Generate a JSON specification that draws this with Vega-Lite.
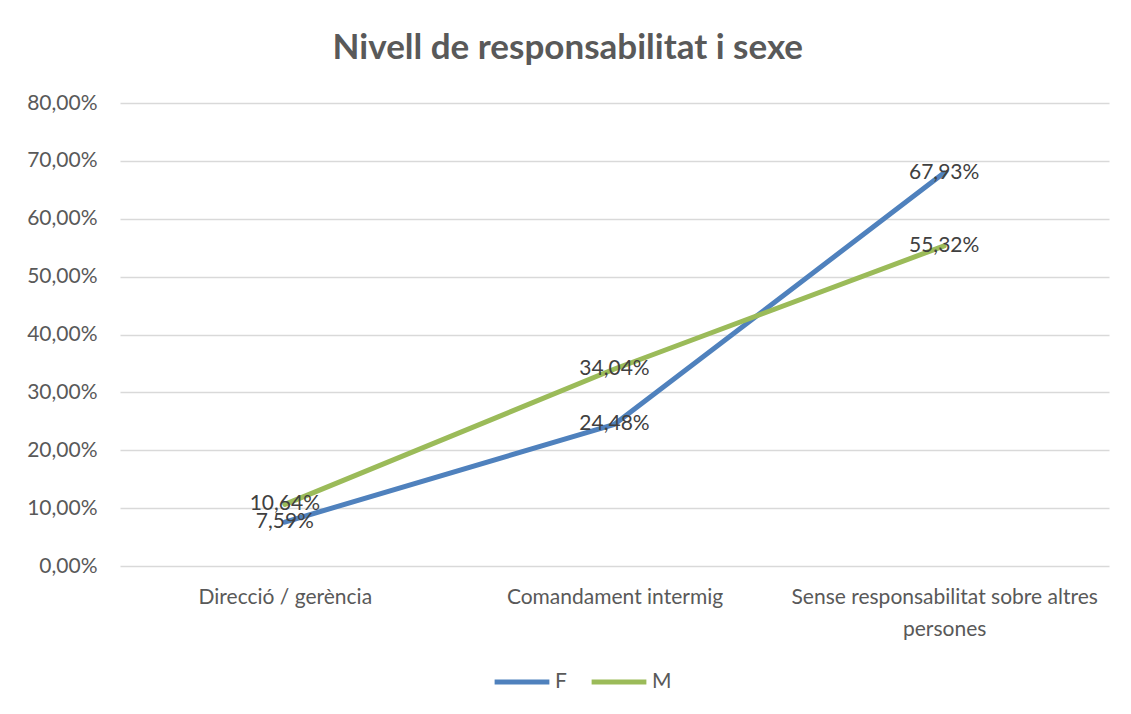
{
  "$schema": "https://vega.github.io/schema/vega-lite/v6.json",
  "autosize": {"type": "none"},
  "width": 989,
  "height": 463,
  "padding": {"left": 120, "top": 103, "right": 22, "bottom": 148},
  "background": "white",
  "title": {
    "text": "Nivell de responsabilitat i sexe",
    "font": "Lato",
    "fontSize": 35,
    "fontWeight": "bold",
    "color": "#595959",
    "anchor": "middle",
    "frame": "bounds",
    "offset": 26
  },
  "config": {
    "locale": {"number": {"decimal": ",", "thousands": ".", "grouping": [3], "currency": ["", " €"]}},
    "view": {"stroke": null},
    "font": "Lato"
  },
  "data": {
    "values": [
      {"cat": "Direcció / gerència", "sexe": "F", "v": 0.0759},
      {"cat": "Comandament intermig", "sexe": "F", "v": 0.2448},
      {"cat": "Sense responsabilitat sobre altres persones", "sexe": "F", "v": 0.6793},
      {"cat": "Direcció / gerència", "sexe": "M", "v": 0.1064},
      {"cat": "Comandament intermig", "sexe": "M", "v": 0.3404},
      {"cat": "Sense responsabilitat sobre altres persones", "sexe": "M", "v": 0.5532}
    ]
  },
  "encoding": {
    "x": {
      "field": "cat", "type": "nominal", "sort": null,
      "scale": {"paddingInner": 0, "paddingOuter": 0},
      "axis": {
        "title": null, "ticks": false, "domain": false, "labelAngle": 0,
        "labelFont": "Lato", "labelFontSize": 21, "labelColor": "#595959",
        "labelPadding": 20, "labelLineHeight": 32, "labelLimit": 400,
        "labelExpr": "datum.value == 'Sense responsabilitat sobre altres persones' ? ['Sense responsabilitat sobre altres', 'persones'] : datum.value"
      }
    },
    "y": {
      "field": "v", "type": "quantitative",
      "scale": {"domain": [0, 0.8], "nice": false},
      "axis": {
        "title": null, "format": ".2%", "values": [0, 0.1, 0.2, 0.3, 0.4, 0.5, 0.6, 0.7, 0.8],
        "labelOverlap": false,
        "ticks": false, "domain": false,
        "gridColor": "#d9d9d9", "gridWidth": 1.3,
        "labelFont": "Lato", "labelFontSize": 21, "labelColor": "#595959", "labelPadding": 23
      }
    }
  },
  "layer": [
    {
      "mark": {"type": "line", "strokeWidth": 5, "strokeCap": "round", "strokeJoin": "round"},
      "encoding": {
        "color": {
          "field": "sexe", "type": "nominal",
          "scale": {"domain": ["F", "M"], "range": ["#4f81bd", "#9bbb59"]},
          "legend": {
            "title": null, "orient": "none", "direction": "horizontal",
            "legendX": 372, "legendY": 549,
            "symbolType": "stroke", "symbolStrokeWidth": 5, "symbolSize": 3000,
            "labelFont": "Lato", "labelFontSize": 21, "labelColor": "#595959",
            "labelOffset": 3, "columnPadding": 14
          }
        }
      }
    },
    {
      "mark": {"type": "text", "font": "Lato", "fontSize": 21, "color": "#404040", "baseline": "middle", "align": "center"},
      "encoding": {
        "text": {"field": "v", "type": "quantitative", "format": ".2%"}
      }
    }
  ]
}
